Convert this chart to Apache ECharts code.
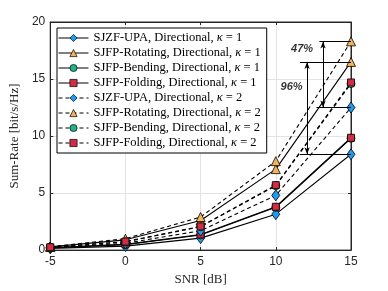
<!DOCTYPE html>
<html><head><meta charset="utf-8">
<script src="https://cdn.jsdelivr.net/npm/echarts@6/dist/echarts.min.js"></script>
<style>html,body{margin:0;padding:0;background:#fff}#c{width:388px;height:291px}</style>
</head><body><div id="c"></div>
<script>
const snr = [-5, 0, 5, 10, 15];
const upa1 = [0.15, 0.35, 1.05, 3.15, 8.4];
const rot1 = [0.28, 0.9, 2.6, 7.1, 16.5];
const bend1 = [0.2, 0.48, 1.33, 3.75, 9.8];
const fold1 = [0.2, 0.5, 1.37, 3.8, 9.85];
const upa2 = [0.22, 0.6, 1.7, 4.8, 12.5];
const rot2 = [0.3, 1.0, 2.9, 7.8, 18.3];
const bend2 = [0.25, 0.72, 2.05, 5.65, 14.6];
const fold2 = [0.25, 0.75, 2.08, 5.7, 14.7];
const xTicks = [-5, 0, 5, 10, 15];
const yTicks = [0, 5, 10, 15, 20];
const names = ['SJZF-UPA', 'SJFP-Rotating', 'SJFP-Bending', 'SJFP-Folding'];
const kappas = [1, 2];
const pctLabels = ['47%', '96%'];

const colors = ['#1E9BF0', '#F2B35A', '#1FB389', '#D22C44'];
const symbols = ['diamond', 'triangle', 'circle', 'rect'];
const sizes = [[8, 11], 9, 8, 7];
const sets = [[upa1, rot1, bend1, fold1], [upa2, rot2, bend2, fold2]];

const series = [];
kappas.forEach((k, ki) => {
  names.forEach((n, ni) => {
    series.push({
      name: n + '|' + k,
      type: 'line',
      data: snr.map((x, i) => [x, sets[ki][ni][i]]),
      symbol: symbols[ni],
      symbolSize: sizes[ni],
      lineStyle: { color: '#000', width: 1.1, type: ki === 0 ? 'solid' : [4, 3] },
      itemStyle: { color: colors[ni], borderColor: '#000', borderWidth: 0.8 },
      z: 3,
      animation: false
    });
  });
});

const last = a => a[a.length - 1];
series.push({
  type: 'line', data: [], silent: true, animation: false,
  markLine: {
    symbol: 'none', silent: true, animation: false,
    lineStyle: { color: '#000', width: 1, type: 'solid' }, label: { show: false },
    data: [
      [{ coord: [12.9, last(rot2)] }, { coord: [15, last(rot2)] }],
      [{ coord: [12.7, last(upa2)] }, { coord: [15, last(upa2)] }],
      [{ coord: [11.6, last(rot1)] }, { coord: [15, last(rot1)] }],
      [{ coord: [11.6, last(upa1)] }, { coord: [15, last(upa1)] }]
    ]
  }
});
series.push({
  type: 'line', data: [], silent: true, animation: false,
  markLine: {
    symbol: ['arrow', 'arrow'], symbolSize: [4, 7], silent: true, animation: false,
    lineStyle: { color: '#000', width: 1, type: 'solid' }, label: { show: false },
    data: [
      [{ coord: [13.14, last(upa2)] }, { coord: [13.14, last(rot2)] }],
      [{ coord: [12.08, last(upa1)] }, { coord: [12.08, last(rot1)] }]
    ]
  }
});
series.push({
  type: 'scatter', silent: true, animation: false, symbolSize: 0,
  data: [
    { value: [11.75, 17.6], name: pctLabels[0] },
    { value: [11.05, 14.3], name: pctLabels[1] }
  ],
  label: { show: true, position: 'inside', fontFamily: 'Liberation Sans', fontWeight: 'bold', fontStyle: 'italic', fontSize: 11, color: '#000', formatter: p => p.name },
  z: 5
});

const chart = echarts.init(document.getElementById('c'), null, { renderer: 'canvas' });
const tickFont = { fontFamily: 'Liberation Sans', fontSize: 12, color: '#262626' };
chart.setOption({
  backgroundColor: '#fff',
  animation: false,
  grid: { left: 50, right: 37, top: 22, bottom: 35, show: true, borderColor: '#262626', borderWidth: 1, backgroundColor: 'transparent' },
  legend: {
    orient: 'vertical', left: 57, top: 28,
    backgroundColor: '#fff', borderColor: '#000', borderWidth: 1,
    padding: [3, 6, 3, 1], itemWidth: 30, itemHeight: 9, itemGap: 1,
    selectedMode: false,
    itemStyle: { borderWidth: 0.7, borderColor: '#000' },
    lineStyle: { width: 1, color: '#000' },
    formatter: name => {
      const [n, k] = name.split('|');
      return '{t|' + n + ', Directional, }{k|κ}{t| = ' + k + '}';
    },
    textStyle: {
      fontFamily: 'Liberation Serif', fontSize: 12.5, color: '#000', lineHeight: 14,
      rich: {
        t: { fontFamily: 'Liberation Serif', fontSize: 12.5, color: '#000', lineHeight: 14 },
        k: { fontFamily: 'Liberation Serif', fontStyle: 'italic', fontSize: 12.5, color: '#000', lineHeight: 14 }
      }
    },
    data: series.filter(s => s.name).map(s => s.name)
  },
  xAxis: [{
    type: 'value', min: xTicks[0], max: xTicks[xTicks.length - 1], interval: 5,
    name: 'SNR [dB]', nameLocation: 'middle', nameGap: 19,
    nameTextStyle: { fontFamily: 'Liberation Serif', fontSize: 13, color: '#262626' },
    axisLine: { onZero: false, lineStyle: { color: '#262626' } },
    axisTick: { inside: true, length: 3, lineStyle: { color: '#262626' } },
    axisLabel: Object.assign({ margin: 6 }, tickFont),
    splitLine: { show: true, lineStyle: { color: '#e3e3e3', width: 1 } }
  }, {
    type: 'value', position: 'top', min: xTicks[0], max: xTicks[xTicks.length - 1], interval: 5,
    axisLine: { onZero: false, lineStyle: { color: '#262626' } },
    axisTick: { inside: true, length: 3, lineStyle: { color: '#262626' } },
    axisLabel: { show: false }, splitLine: { show: false }
  }],
  yAxis: [{
    type: 'value', min: yTicks[0], max: yTicks[yTicks.length - 1], interval: 5,
    name: 'Sum-Rate [bit/s/Hz]', nameLocation: 'middle', nameGap: 22,
    nameTextStyle: { fontFamily: 'Liberation Serif', fontSize: 13, color: '#262626' },
    axisLine: { show: true, onZero: false, lineStyle: { color: '#262626' } },
    axisTick: { show: true, inside: true, length: 3, lineStyle: { color: '#262626' } },
    axisLabel: Object.assign({ margin: 5 }, tickFont),
    splitLine: { show: true, lineStyle: { color: '#e3e3e3', width: 1 } }
  }, {
    type: 'value', position: 'right', min: yTicks[0], max: yTicks[yTicks.length - 1], interval: 5,
    axisLine: { show: true, onZero: false, lineStyle: { color: '#262626' } },
    axisTick: { show: true, inside: true, length: 3, lineStyle: { color: '#262626' } },
    axisLabel: { show: false }, splitLine: { show: false }
  }],
  series: series
});
</script></body></html>
